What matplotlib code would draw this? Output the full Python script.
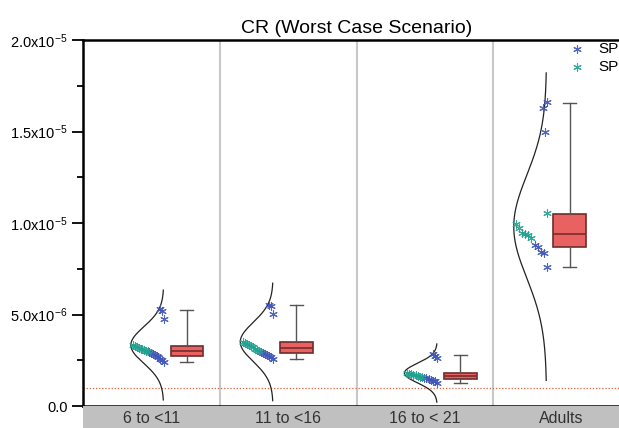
import numpy as np
import matplotlib
matplotlib.use("Agg")
import matplotlib.pyplot as plt
from matplotlib.ticker import MultipleLocator, FuncFormatter

plt.rcParams['font.family'] = ['Liberation Sans', 'DejaVu Sans']
plt.rcParams['mathtext.fontset'] = 'custom'
plt.rcParams['mathtext.rm'] = 'Liberation Sans'

# categories
groups = ['6 to <11', '11 to <16', '16 to < 21', 'Adults']

# data points per group (two series)
sp_blue = [
    [5.30e-6, 5.19e-6, 4.75e-6, 2.93e-6, 2.88e-6, 2.84e-6, 2.79e-6, 2.73e-6, 2.66e-6, 2.58e-6, 2.50e-6, 2.40e-6],
    [5.52e-6, 5.46e-6, 5.03e-6, 2.97e-6, 2.92e-6, 2.86e-6, 2.80e-6, 2.74e-6, 2.66e-6, 2.57e-6],
    [2.84e-6, 2.73e-6, 2.62e-6, 1.55e-6, 1.51e-6, 1.47e-6, 1.43e-6, 1.39e-6, 1.34e-6, 1.26e-6],
    [1.66e-5, 1.63e-5, 1.50e-5, 0.880e-5, 0.869e-5, 0.842e-5, 0.838e-5, 0.760e-5],
]
sp_teal = [
    [3.33e-6, 3.28e-6, 3.22e-6, 3.18e-6, 3.13e-6, 3.10e-6, 3.06e-6, 3.02e-6, 2.98e-6],
    [3.50e-6, 3.44e-6, 3.38e-6, 3.32e-6, 3.26e-6, 3.20e-6, 3.14e-6, 3.08e-6, 3.02e-6],
    [1.80e-6, 1.77e-6, 1.73e-6, 1.70e-6, 1.67e-6, 1.64e-6, 1.61e-6, 1.58e-6],
    [1.055e-5, 0.995e-5, 0.973e-5, 0.945e-5, 0.940e-5, 0.934e-5, 0.918e-5],
]

# box statistics
q1 = [2.75e-6, 2.88e-6, 1.48e-6, 0.869e-5]
med = [3.00e-6, 3.15e-6, 1.64e-6, 0.942e-5]
q3 = [3.30e-6, 3.48e-6, 1.79e-6, 1.048e-5]
whislo = [2.38e-6, 2.55e-6, 1.24e-6, 0.758e-5]
whishi = [5.23e-6, 5.52e-6, 2.79e-6, 1.654e-5]

# fitted normal curves
curve_mu = [3.33e-6, 3.50e-6, 1.80e-6, 0.98e-5]
curve_sd = [1.00e-6, 1.07e-6, 0.53e-6, 2.8e-6]

ref_level = 1.0e-6

# layout
box_pos = np.array([0.26, 1.06, 2.26, 3.06])
base_pos = box_pos - 0.17
curve_w = 0.24

blue = '#4055b8'
teal = '#21a090'

fig = plt.figure(figsize=(6.19, 4.28), dpi=100)
ax = fig.add_axes([83 / 619, 22 / 428, 547 / 619, 366 / 428])
ax.set_xlim(-0.5, 3.5)
ax.set_ylim(0, 2.0e-5)

for s in [0.5, 1.5, 2.5]:
    ax.axvline(s, color='#c8c8c8', lw=1.5, zorder=1)

ax.axhline(ref_level, color='#e0603a', lw=0.9, ls=(0, (1, 1.5)), zorder=2)


def place(blues, teals, median, base):
    vals = np.array(blues + teals)
    asc = np.sort(vals)
    rng = asc[-1] - asc[0]
    top = asc[-1]
    above = asc[asc >= median]
    for a, b in zip(above[:-1], above[1:]):
        if b - a > 0.05 * rng:
            top = a
            break
    order = np.argsort(vals)
    frac = np.zeros(len(vals))
    n_cl = int(np.sum(vals <= top))
    k = 0
    for rank, idx in enumerate(order):
        if rank < n_cl:
            frac[idx] = 0.92 * rank / max(n_cl - 1, 1)
        else:
            frac[idx] = 0.06 * (k % 3)
            k += 1
    xs = base - curve_w * frac
    return xs[:len(blues)], xs[len(blues):]


for i in range(len(groups)):
    mu, sd = curve_mu[i], curve_sd[i]
    yy = np.linspace(mu - 3 * sd, mu + 3 * sd, 300)
    xx = base_pos[i] - curve_w * np.exp(-0.5 * ((yy - mu) / sd) ** 2)
    ax.plot(xx, yy, color='#222222', lw=0.9, zorder=3)

    xb, xt = place(sp_blue[i], sp_teal[i], med[i], base_pos[i])
    ax.scatter(xb, sp_blue[i], marker=(6, 2, 0), s=30, color=blue, lw=0.8, alpha=0.9, zorder=4,
               label='SP' if i == 0 else None)
    ax.scatter(xt, sp_teal[i], marker=(6, 2, 0), s=30, color=teal, lw=0.8, alpha=0.9, zorder=4,
               label='SP' if i == 0 else None)

stats = [dict(q1=q1[i], med=med[i], q3=q3[i], whislo=whislo[i], whishi=whishi[i], fliers=[])
         for i in range(len(groups))]
ax.bxp(stats, positions=box_pos, widths=0.24, patch_artist=True, showfliers=False,
       boxprops=dict(facecolor='#e86262', edgecolor='#6e2c2c', lw=1.2),
       medianprops=dict(color='#7a2a2a', lw=1.2),
       whiskerprops=dict(color='#555555', lw=1.0),
       capprops=dict(color='#555555', lw=1.0),
       capwidths=0.095, manage_ticks=False, zorder=5)


def fmt(v, pos):
    if abs(v) < 1e-12:
        return '0.0'
    e = int(np.floor(np.log10(abs(v)) + 1e-9))
    m = v / 10 ** e
    return r'$\mathregular{%.1fx10^{%d}}$' % (m, e)


ax.yaxis.set_major_locator(MultipleLocator(5e-6))
ax.yaxis.set_minor_locator(MultipleLocator(2.5e-6))
ax.yaxis.set_major_formatter(FuncFormatter(fmt))
ax.tick_params(axis='y', which='major', length=8, width=1.3, labelsize=10.5, pad=3)
ax.tick_params(axis='y', which='minor', length=4, width=1.3)
ax.set_xticks([])
for sp in ['left', 'top', 'bottom']:
    ax.spines[sp].set_linewidth(1.8)
ax.spines['right'].set_visible(False)

ax.set_title('CR (Worst Case Scenario)', fontsize=14, pad=5)

ax.legend(loc='upper left', bbox_to_anchor=(569 / 619, 1 - 42 / 428), bbox_transform=fig.transFigure,
          frameon=False, handlelength=1.0, handletextpad=0.9, borderpad=0, labelspacing=0.25,
          scatterpoints=1, fontsize=11, borderaxespad=0)

# grey category band under the axis
band = fig.add_axes([83 / 619, 0, 547 / 619, 22 / 428])
band.set_facecolor('#c0c0c0')
band.set_xlim(-0.5, 3.5)
band.set_ylim(0, 1)
for sp in band.spines.values():
    sp.set_visible(False)
band.set_xticks([])
band.set_yticks([])
for i, g in enumerate(groups):
    band.text(i, 0.42, g, ha='center', va='center', fontsize=11.5, color='#333333')

fig.savefig('out.png', dpi=100)
